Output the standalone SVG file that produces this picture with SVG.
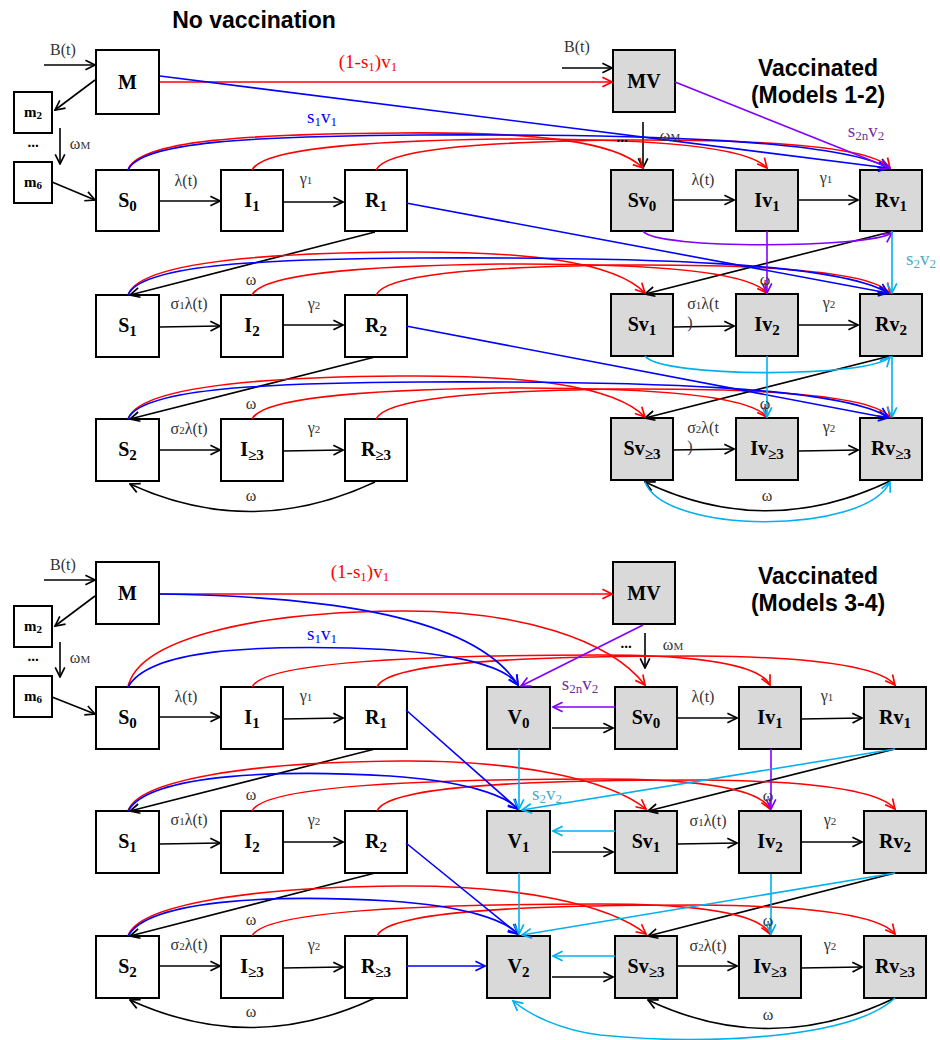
<svg xmlns="http://www.w3.org/2000/svg" width="940" height="1040" viewBox="0 0 940 1040">
<style>
.bx{fill:#fff;stroke:#000;stroke-width:2}
.gx{fill:#d9d9d9;stroke:#000;stroke-width:2}
.nl{font-family:"Liberation Serif","DejaVu Serif",serif;font-weight:bold;font-size:20px;text-anchor:middle;fill:#000}
.sm{font-family:"Liberation Serif","DejaVu Serif",serif;font-weight:bold;font-size:15px;text-anchor:middle;fill:#000}
.ml{font-family:"Liberation Serif","DejaVu Serif",serif;font-size:16px;text-anchor:middle;fill:#333}
.tt{font-family:"Liberation Sans",Arial,sans-serif;font-weight:bold;font-size:23px;text-anchor:middle;fill:#000}
.cl{font-family:"Liberation Serif","DejaVu Serif",serif;font-size:19px;text-anchor:middle}
.k{stroke:#000;stroke-width:1.6;fill:none;marker-end:url(#ak)}
.r{stroke:#f00;stroke-width:1.6;fill:none;marker-end:url(#ar)}
.b{stroke:#00f;stroke-width:1.6;fill:none;marker-end:url(#ab)}
.p{stroke:#8000ff;stroke-width:1.6;fill:none;marker-end:url(#ap)}
.c{stroke:#00b0f0;stroke-width:1.6;fill:none;marker-end:url(#ac)}
</style>
<defs>
<marker id="ak" viewBox="0 0 10 10" refX="9" refY="5" markerWidth="12" markerHeight="12" markerUnits="userSpaceOnUse" orient="auto"><path d="M1,1 L9,5 L1,9" fill="none" stroke="#000" stroke-width="1.4"/></marker>
<marker id="ar" viewBox="0 0 10 10" refX="9" refY="5" markerWidth="12" markerHeight="12" markerUnits="userSpaceOnUse" orient="auto"><path d="M1,1 L9,5 L1,9" fill="none" stroke="#f00" stroke-width="1.4"/></marker>
<marker id="ab" viewBox="0 0 10 10" refX="9" refY="5" markerWidth="12" markerHeight="12" markerUnits="userSpaceOnUse" orient="auto"><path d="M1,1 L9,5 L1,9" fill="none" stroke="#00f" stroke-width="1.4"/></marker>
<marker id="ap" viewBox="0 0 10 10" refX="9" refY="5" markerWidth="12" markerHeight="12" markerUnits="userSpaceOnUse" orient="auto"><path d="M1,1 L9,5 L1,9" fill="none" stroke="#8000ff" stroke-width="1.4"/></marker>
<marker id="ac" viewBox="0 0 10 10" refX="9" refY="5" markerWidth="12" markerHeight="12" markerUnits="userSpaceOnUse" orient="auto"><path d="M1,1 L9,5 L1,9" fill="none" stroke="#00b0f0" stroke-width="1.4"/></marker>
</defs>
<rect width="940" height="1040" fill="#fff"/>

<!-- Titles -->
<text class="tt" x="254" y="28">No vaccination</text>
<text class="tt" x="818" y="76">Vaccinated</text>
<text class="tt" x="818" y="103">(Models 1-2)</text>
<text class="tt" x="818" y="584">Vaccinated</text>
<text class="tt" x="818" y="611">(Models 3-4)</text>

<!-- ===== TOP NODES ===== -->
<g id="M_a"><rect class="bx" x="96" y="50" width="63" height="64"/><text class="nl" x="127.5" y="89">M</text></g>
<g id="m2_a"><rect class="bx" x="14" y="92" width="38" height="41"/><text class="sm" x="33" y="117">m<tspan font-size="11" dy="2">2</tspan></text></g>
<g id="m6_a"><rect class="bx" x="14" y="162" width="38" height="41"/><text class="sm" x="33" y="187">m<tspan font-size="11" dy="2">6</tspan></text></g>
<text class="sm" x="33" y="147">...</text>
<g id="S0_a"><rect class="bx" x="96" y="170" width="63" height="61"/><text class="nl" x="127.5" y="207">S<tspan font-size="15" dy="4">0</tspan></text></g>
<g id="I1_a"><rect class="bx" x="221" y="170" width="62" height="61"/><text class="nl" x="252" y="207">I<tspan font-size="15" dy="4">1</tspan></text></g>
<g id="R1_a"><rect class="bx" x="345" y="170" width="62" height="61"/><text class="nl" x="376" y="207">R<tspan font-size="15" dy="4">1</tspan></text></g>
<g id="S1_a"><rect class="bx" x="96" y="295" width="63" height="62"/><text class="nl" x="127.5" y="332">S<tspan font-size="15" dy="4">1</tspan></text></g>
<g id="I2_a"><rect class="bx" x="221" y="295" width="62" height="62"/><text class="nl" x="252" y="332">I<tspan font-size="15" dy="4">2</tspan></text></g>
<g id="R2_a"><rect class="bx" x="345" y="295" width="62" height="62"/><text class="nl" x="376" y="332">R<tspan font-size="15" dy="4">2</tspan></text></g>
<g id="S2_a"><rect class="bx" x="96" y="419" width="63" height="62"/><text class="nl" x="127.5" y="456">S<tspan font-size="15" dy="4">2</tspan></text></g>
<g id="I3_a"><rect class="bx" x="221" y="419" width="62" height="62"/><text class="nl" x="252" y="456">I<tspan font-size="15" dy="4">≥3</tspan></text></g>
<g id="R3_a"><rect class="bx" x="345" y="419" width="62" height="62"/><text class="nl" x="376" y="456">R<tspan font-size="15" dy="4">≥3</tspan></text></g>

<g id="MV_a"><rect class="gx" x="613" y="50" width="62" height="62"/><text class="nl" x="644" y="88">MV</text></g>
<g id="Sv0_a"><rect class="gx" x="611" y="170" width="62" height="61"/><text class="nl" x="642" y="207">Sv<tspan font-size="15" dy="4">0</tspan></text></g>
<g id="Iv1_a"><rect class="gx" x="736" y="170" width="62" height="61"/><text class="nl" x="767" y="207">Iv<tspan font-size="15" dy="4">1</tspan></text></g>
<g id="Rv1_a"><rect class="gx" x="860" y="170" width="62" height="61"/><text class="nl" x="891" y="207">Rv<tspan font-size="15" dy="4">1</tspan></text></g>
<g id="Sv1_a"><rect class="gx" x="611" y="294" width="62" height="62"/><text class="nl" x="642" y="331">Sv<tspan font-size="15" dy="4">1</tspan></text></g>
<g id="Iv2_a"><rect class="gx" x="736" y="294" width="62" height="62"/><text class="nl" x="767" y="331">Iv<tspan font-size="15" dy="4">2</tspan></text></g>
<g id="Rv2_a"><rect class="gx" x="860" y="294" width="62" height="62"/><text class="nl" x="891" y="331">Rv<tspan font-size="15" dy="4">2</tspan></text></g>
<g id="Sv3_a"><rect class="gx" x="611" y="418" width="62" height="62"/><text class="nl" x="642" y="455">Sv<tspan font-size="15" dy="4">≥3</tspan></text></g>
<g id="Iv3_a"><rect class="gx" x="736" y="418" width="62" height="62"/><text class="nl" x="767" y="455">Iv<tspan font-size="15" dy="4">≥3</tspan></text></g>
<g id="Rv3_a"><rect class="gx" x="860" y="418" width="62" height="62"/><text class="nl" x="891" y="455">Rv<tspan font-size="15" dy="4">≥3</tspan></text></g>

<!-- ===== BOTTOM NODES ===== -->
<g id="M_b"><rect class="bx" x="96" y="562" width="63" height="62"/><text class="nl" x="127.5" y="600">M</text></g>
<g id="m2_b"><rect class="bx" x="14" y="606" width="38" height="41"/><text class="sm" x="33" y="631">m<tspan font-size="11" dy="2">2</tspan></text></g>
<g id="m6_b"><rect class="bx" x="14" y="676" width="38" height="41"/><text class="sm" x="33" y="701">m<tspan font-size="11" dy="2">6</tspan></text></g>
<text class="sm" x="33" y="661">...</text>
<g id="S0_b"><rect class="bx" x="96" y="687" width="63" height="62"/><text class="nl" x="127.5" y="724">S<tspan font-size="15" dy="4">0</tspan></text></g>
<g id="I1_b"><rect class="bx" x="221" y="687" width="62" height="62"/><text class="nl" x="252" y="724">I<tspan font-size="15" dy="4">1</tspan></text></g>
<g id="R1_b"><rect class="bx" x="345" y="687" width="62" height="62"/><text class="nl" x="376" y="724">R<tspan font-size="15" dy="4">1</tspan></text></g>
<g id="S1_b"><rect class="bx" x="96" y="811" width="63" height="62"/><text class="nl" x="127.5" y="848">S<tspan font-size="15" dy="4">1</tspan></text></g>
<g id="I2_b"><rect class="bx" x="221" y="811" width="62" height="62"/><text class="nl" x="252" y="848">I<tspan font-size="15" dy="4">2</tspan></text></g>
<g id="R2_b"><rect class="bx" x="345" y="811" width="62" height="62"/><text class="nl" x="376" y="848">R<tspan font-size="15" dy="4">2</tspan></text></g>
<g id="S2_b"><rect class="bx" x="96" y="936" width="63" height="62"/><text class="nl" x="127.5" y="973">S<tspan font-size="15" dy="4">2</tspan></text></g>
<g id="I3_b"><rect class="bx" x="221" y="936" width="62" height="62"/><text class="nl" x="252" y="973">I<tspan font-size="15" dy="4">≥3</tspan></text></g>
<g id="R3_b"><rect class="bx" x="345" y="936" width="62" height="62"/><text class="nl" x="376" y="973">R<tspan font-size="15" dy="4">≥3</tspan></text></g>

<g id="MV_b"><rect class="gx" x="613" y="562" width="62" height="62"/><text class="nl" x="644" y="600">MV</text></g>
<g id="V0_b"><rect class="gx" x="487" y="687" width="63" height="62"/><text class="nl" x="518.5" y="724">V<tspan font-size="15" dy="4">0</tspan></text></g>
<g id="Sv0_b"><rect class="gx" x="615" y="687" width="62" height="62"/><text class="nl" x="646" y="724">Sv<tspan font-size="15" dy="4">0</tspan></text></g>
<g id="Iv1_b"><rect class="gx" x="739" y="687" width="62" height="62"/><text class="nl" x="770" y="724">Iv<tspan font-size="15" dy="4">1</tspan></text></g>
<g id="Rv1_b"><rect class="gx" x="864" y="687" width="62" height="62"/><text class="nl" x="895" y="724">Rv<tspan font-size="15" dy="4">1</tspan></text></g>
<g id="V1_b"><rect class="gx" x="487" y="811" width="63" height="62"/><text class="nl" x="518.5" y="848">V<tspan font-size="15" dy="4">1</tspan></text></g>
<g id="Sv1_b"><rect class="gx" x="615" y="811" width="62" height="62"/><text class="nl" x="646" y="848">Sv<tspan font-size="15" dy="4">1</tspan></text></g>
<g id="Iv2_b"><rect class="gx" x="739" y="811" width="62" height="62"/><text class="nl" x="770" y="848">Iv<tspan font-size="15" dy="4">2</tspan></text></g>
<g id="Rv2_b"><rect class="gx" x="864" y="811" width="62" height="62"/><text class="nl" x="895" y="848">Rv<tspan font-size="15" dy="4">2</tspan></text></g>
<g id="V2_b"><rect class="gx" x="487" y="936" width="63" height="62"/><text class="nl" x="518.5" y="973">V<tspan font-size="15" dy="4">2</tspan></text></g>
<g id="Sv3_b"><rect class="gx" x="615" y="936" width="62" height="62"/><text class="nl" x="646" y="973">Sv<tspan font-size="15" dy="4">≥3</tspan></text></g>
<g id="Iv3_b"><rect class="gx" x="739" y="936" width="62" height="62"/><text class="nl" x="770" y="973">Iv<tspan font-size="15" dy="4">≥3</tspan></text></g>
<g id="Rv3_b"><rect class="gx" x="864" y="936" width="62" height="62"/><text class="nl" x="895" y="973">Rv<tspan font-size="15" dy="4">≥3</tspan></text></g>

<g id="connectors">
<!-- TOP black -->
<path class="k" d="M44,65 L95,65"/>
<path class="k" d="M95,80 L55,110"/>
<path class="k" d="M60,128 L60,164"/>
<path class="k" d="M52,182 L95,200"/>
<path class="k" d="M160,201 L220,201"/>
<path class="k" d="M283,202 L343,202"/>
<path class="k" d="M160,327 L220,326"/>
<path class="k" d="M283,325 L343,325"/>
<path class="k" d="M160,450 L220,450"/>
<path class="k" d="M283,451 L343,450"/>
<path class="k" d="M375,232 L130,295"/>
<path class="k" d="M375,357 L130,419"/>
<path class="k" d="M375,482 Q252,540 130,484"/>
<path class="k" d="M562,68 L612,68"/>
<path class="k" d="M643,122 L643,168"/>
<path class="k" d="M673,200 L734,200"/>
<path class="k" d="M799,200 L858,200"/>
<path class="k" d="M673,327 L734,326"/>
<path class="k" d="M799,325 L858,325"/>
<path class="k" d="M673,450 L734,449"/>
<path class="k" d="M799,451 L858,450"/>
<path class="k" d="M890,232 L645,294"/>
<path class="k" d="M890,356 L645,418"/>
<path class="k" d="M890,481 Q767,540 645,482"/>
<!-- TOP red -->
<path class="r" d="M160,82 L612,82"/>
<path class="r" d="M128,170 C138,140 250,134 400,133 C530,132 615,140 643,168"/>
<path class="r" d="M252,170 C262,150 350,141 500,139 C660,138 750,148 767,168"/>
<path class="r" d="M376,170 C386,150 470,142 620,140 C800,139 875,150 890,168"/>
<path class="r" d="M128,295 C138,264 250,253 400,252 C530,251 615,262 645,293"/>
<path class="r" d="M252,295 C262,275 350,266 500,264 C660,263 750,272 767,293"/>
<path class="r" d="M376,295 C386,275 470,267 620,265 C800,264 875,275 890,293"/>
<path class="r" d="M128,419 C138,388 250,377 400,376 C530,375 615,386 645,417"/>
<path class="r" d="M252,419 C262,399 350,390 500,388 C660,387 750,396 767,417"/>
<path class="r" d="M376,419 C386,399 470,391 620,389 C800,388 875,399 890,417"/>
<!-- TOP blue -->
<path class="b" d="M160,76 L888,168"/>
<path class="b" d="M128,170 C140,142 250,136 420,135 C650,134 840,140 888,168"/>
<path class="b" d="M406,203 L888,293"/>
<path class="b" d="M128,295 C140,266 250,259 420,258 C650,257 840,263 888,293"/>
<path class="b" d="M406,326 L888,418"/>
<path class="b" d="M128,419 C140,390 250,383 420,382 C650,381 840,387 888,417"/>
<!-- TOP purple -->
<path class="p" d="M675,82 L890,168"/>
<path class="p" d="M643,231 C655,250 870,248 892,233"/>
<path class="p" d="M767,231 L767,293"/>
<!-- TOP cyan -->
<path class="c" d="M892,231 L892,293"/>
<path class="c" d="M645,356 C660,378 870,378 890,357"/>
<path class="c" d="M767,356 L767,417"/>
<path class="c" d="M892,356 L892,417"/>
<path class="c" d="M645,482 C665,535 865,535 890,482"/>

<!-- BOTTOM black -->
<path class="k" d="M44,580 L95,580"/>
<path class="k" d="M95,596 L55,626"/>
<path class="k" d="M60,642 L60,677"/>
<path class="k" d="M52,697 L95,714"/>
<path class="k" d="M160,717 L220,717"/>
<path class="k" d="M283,719 L343,718"/>
<path class="k" d="M160,844 L220,843"/>
<path class="k" d="M283,842 L343,842"/>
<path class="k" d="M160,966 L220,966"/>
<path class="k" d="M283,968 L343,967"/>
<path class="k" d="M375,749 L130,811"/>
<path class="k" d="M375,873 L130,936"/>
<path class="k" d="M375,998 Q252,1056 130,1000"/>
<path class="k" d="M645,633 L645,668"/>
<path class="k" d="M552,728 L613,728"/>
<path class="k" d="M677,718 L737,718"/>
<path class="k" d="M801,719 L862,718"/>
<path class="k" d="M552,852 L613,852"/>
<path class="k" d="M677,844 L737,843"/>
<path class="k" d="M801,842 L862,842"/>
<path class="k" d="M552,977 L613,977"/>
<path class="k" d="M677,966 L737,966"/>
<path class="k" d="M801,968 L862,967"/>
<path class="k" d="M895,749 L648,811"/>
<path class="k" d="M895,873 L648,936"/>
<path class="k" d="M895,998 Q770,1058 648,1000"/>
<!-- BOTTOM red -->
<path class="r" d="M160,594 L612,594"/>
<path class="r" d="M128,687 C138,640 250,612 400,611 C520,610 610,640 645,685"/>
<path class="r" d="M252,687 C262,664 400,655 600,655 C700,655 760,665 770,685"/>
<path class="r" d="M377,687 C387,664 500,656 700,656 C820,657 880,667 895,685"/>
<path class="r" d="M128,811 C138,780 250,762 400,761 C520,760 610,780 646,809"/>
<path class="r" d="M252,811 C262,788 400,779 600,779 C700,779 760,789 770,809"/>
<path class="r" d="M377,811 C387,788 500,780 700,780 C820,781 880,791 895,809"/>
<path class="r" d="M128,936 C138,905 250,887 400,886 C520,885 610,905 646,934"/>
<path class="r" d="M252,936 C262,913 400,904 600,904 C700,904 760,914 770,934"/>
<path class="r" d="M377,936 C387,913 500,905 700,905 C820,906 880,916 895,934"/>
<!-- BOTTOM blue -->
<path class="b" d="M160,594 C300,596 470,610 518,685"/>
<path class="b" d="M128,687 C150,648 260,646 350,648 C450,651 505,665 518,685"/>
<path class="b" d="M406,710 L518,809"/>
<path class="b" d="M128,811 C150,772 290,770 390,776 C465,781 505,795 518,809"/>
<path class="b" d="M406,843 L518,934"/>
<path class="b" d="M128,936 C150,897 290,895 390,901 C465,906 505,920 518,934"/>
<path class="b" d="M406,966 L485,966"/>
<!-- BOTTOM purple -->
<path class="p" d="M643,625 L521,686"/>
<path class="p" d="M615,707 L553,707"/>
<path class="p" d="M771,749 L771,809"/>
<!-- BOTTOM cyan -->
<path class="c" d="M519,749 L519,809"/>
<path class="c" d="M895,749 L522,810"/>
<path class="c" d="M615,831 L553,831"/>
<path class="c" d="M519,873 L519,934"/>
<path class="c" d="M895,873 L522,935"/>
<path class="c" d="M771,874 L771,934"/>
<path class="c" d="M615,956 L553,956"/>
<path class="c" d="M895,998 C850,1040 700,1045 600,1035 C560,1030 530,1015 513,1001"/>

<!-- labels top -->
<text class="ml" x="63" y="55">B(t)</text>
<text class="ml" x="80" y="149">ω<tspan font-size="11">M</tspan></text>
<text class="ml" x="186" y="186">λ(t)</text>
<text class="ml" x="306" y="184">γ<tspan font-size="11">1</tspan></text>
<text class="ml" x="189" y="309">σ<tspan font-size="11">1</tspan>λ(t)</text>
<text class="ml" x="314" y="309">γ<tspan font-size="11">2</tspan></text>
<text class="ml" x="189" y="434">σ<tspan font-size="11">2</tspan>λ(t)</text>
<text class="ml" x="314" y="433">γ<tspan font-size="11">2</tspan></text>
<text class="ml" x="251" y="285">ω</text>
<text class="ml" x="251" y="409">ω</text>
<text class="ml" x="251" y="501">ω</text>
<text class="cl" x="368" y="68" fill="#f00">(1-s<tspan font-size="13" dy="3">1</tspan><tspan dy="-3">)v</tspan><tspan font-size="13" dy="3">1</tspan></text>
<text class="cl" x="322" y="123" fill="#00f">s<tspan font-size="13" dy="3">1</tspan><tspan dy="-3">v</tspan><tspan font-size="13" dy="3">1</tspan></text>
<text class="ml" x="577" y="52">B(t)</text>
<text class="sm" x="622" y="142">...</text>
<text class="ml" x="670" y="141">ω<tspan font-size="11">M</tspan></text>
<text class="ml" x="703" y="185">λ(t)</text>
<text class="ml" x="826" y="183">γ<tspan font-size="11">1</tspan></text>
<text class="ml" x="703" y="309">σ<tspan font-size="11">1</tspan>λ(t</text>
<text class="ml" x="690" y="328">)</text>
<text class="ml" x="829" y="308">γ<tspan font-size="11">2</tspan></text>
<text class="ml" x="703" y="433">σ<tspan font-size="11">2</tspan>λ(t</text>
<text class="ml" x="690" y="452">)</text>
<text class="ml" x="829" y="432">γ<tspan font-size="11">2</tspan></text>
<text class="ml" x="765" y="285">ω</text>
<text class="ml" x="765" y="409">ω</text>
<text class="ml" x="767" y="501">ω</text>
<text class="cl" x="866" y="137" fill="#7030a0">s<tspan font-size="13" dy="3">2n</tspan><tspan dy="-3">v</tspan><tspan font-size="13" dy="3">2</tspan></text>
<text class="cl" x="921" y="265" fill="#4bacc6">s<tspan font-size="13" dy="3">2</tspan><tspan dy="-3">v</tspan><tspan font-size="13" dy="3">2</tspan></text>

<!-- labels bottom -->
<text class="ml" x="63" y="570">B(t)</text>
<text class="ml" x="80" y="663">ω<tspan font-size="11">M</tspan></text>
<text class="ml" x="186" y="702">λ(t)</text>
<text class="ml" x="306" y="701">γ<tspan font-size="11">1</tspan></text>
<text class="ml" x="189" y="825">σ<tspan font-size="11">1</tspan>λ(t)</text>
<text class="ml" x="314" y="825">γ<tspan font-size="11">2</tspan></text>
<text class="ml" x="189" y="950">σ<tspan font-size="11">2</tspan>λ(t)</text>
<text class="ml" x="314" y="950">γ<tspan font-size="11">2</tspan></text>
<text class="ml" x="251" y="800">ω</text>
<text class="ml" x="251" y="925">ω</text>
<text class="ml" x="251" y="1017">ω</text>
<text class="cl" x="360" y="578" fill="#f00">(1-s<tspan font-size="13" dy="3">1</tspan><tspan dy="-3">)v</tspan><tspan font-size="13" dy="3">1</tspan></text>
<text class="cl" x="322" y="640" fill="#00f">s<tspan font-size="13" dy="3">1</tspan><tspan dy="-3">v</tspan><tspan font-size="13" dy="3">1</tspan></text>
<text class="sm" x="626" y="648">...</text>
<text class="ml" x="673" y="650">ω<tspan font-size="11">M</tspan></text>
<text class="ml" x="703" y="702">λ(t)</text>
<text class="ml" x="827" y="701">γ<tspan font-size="11">1</tspan></text>
<text class="ml" x="708" y="826">σ<tspan font-size="11">1</tspan>λ(t)</text>
<text class="ml" x="830" y="825">γ<tspan font-size="11">2</tspan></text>
<text class="ml" x="708" y="951">σ<tspan font-size="11">2</tspan>λ(t)</text>
<text class="ml" x="830" y="950">γ<tspan font-size="11">2</tspan></text>
<text class="ml" x="768" y="801">ω</text>
<text class="ml" x="768" y="926">ω</text>
<text class="ml" x="768" y="1020">ω</text>
<text class="cl" x="580" y="690" fill="#7030a0">s<tspan font-size="13" dy="3">2n</tspan><tspan dy="-3">v</tspan><tspan font-size="13" dy="3">2</tspan></text>
<text class="cl" x="547" y="800" fill="#4bacc6">s<tspan font-size="13" dy="3">2</tspan><tspan dy="-3">v</tspan><tspan font-size="13" dy="3">2</tspan></text>
</g>
</svg>
